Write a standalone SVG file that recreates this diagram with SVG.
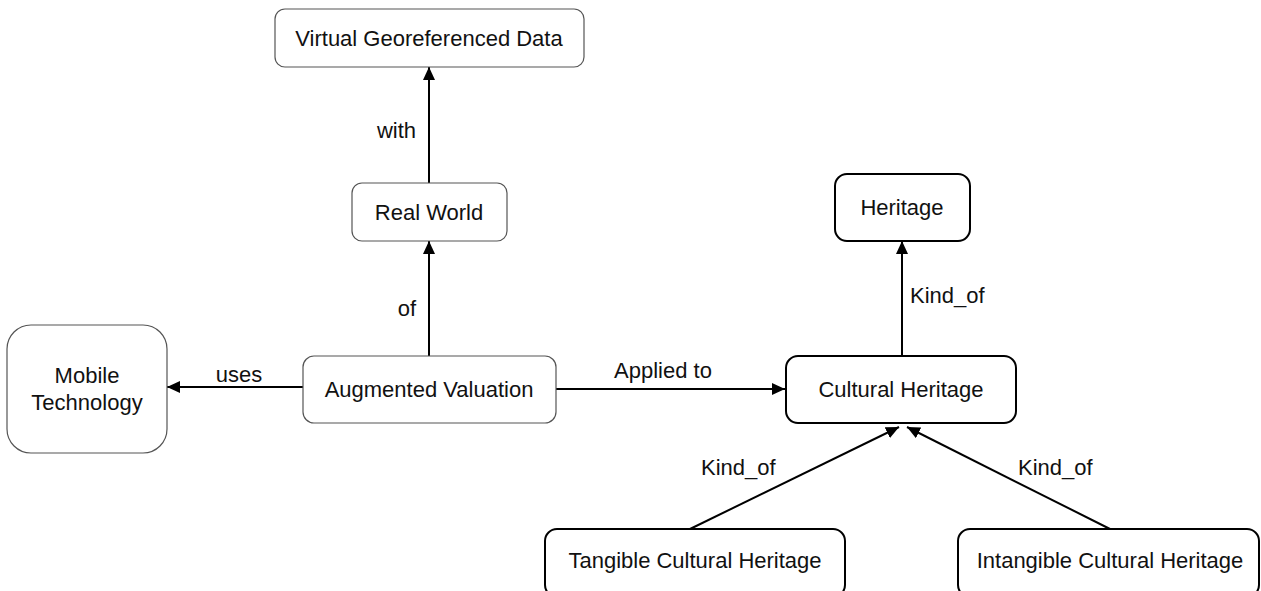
<svg xmlns="http://www.w3.org/2000/svg" width="1261" height="591" viewBox="0 0 1261 591">
<style>
text{font-family:"Liberation Sans",Arial,sans-serif;font-size:22px;fill:#111}
.c{text-anchor:middle;dominant-baseline:central}
.thin{fill:#fff;stroke:#555;stroke-width:1.2}
.bold{fill:#fff;stroke:#000;stroke-width:2}
.edge{stroke:#000;stroke-width:2;fill:none;marker-end:url(#ah)}
</style>
<defs>
<marker id="ah" markerUnits="userSpaceOnUse" markerWidth="14" markerHeight="12" refX="13" refY="6" orient="auto">
<path d="M0,0 L13,6 L0,12 Z" fill="#000"/>
</marker>
</defs>
<rect width="1261" height="591" fill="#fff"/>
<g id="connectors">
<line class="edge" x1="429" y1="183" x2="429" y2="67"/>
<line class="edge" x1="429" y1="356" x2="429" y2="241"/>
<line class="edge" x1="303" y1="387" x2="167" y2="387"/>
<line class="edge" x1="556" y1="389" x2="785" y2="389"/>
<line class="edge" x1="902" y1="356" x2="902" y2="241"/>
<line class="edge" x1="690" y1="529" x2="899" y2="427"/>
<line class="edge" x1="1110" y1="529" x2="907" y2="427"/>
<text x="416" y="138" text-anchor="end">with</text>
<text x="416" y="316" text-anchor="end">of</text>
<text x="239" y="382" text-anchor="middle">uses</text>
<text x="663" y="378" text-anchor="middle">Applied to</text>
<text x="910" y="303">Kind_of</text>
<text x="701" y="475">Kind_of</text>
<text x="1018" y="475">Kind_of</text>
</g>
<g id="vgd">
<rect class="thin" x="275" y="9" width="309" height="58" rx="10"/>
<text class="c" x="429" y="38">Virtual Georeferenced Data</text>
</g>
<g id="realworld">
<rect class="thin" x="352" y="183" width="155" height="58" rx="10"/>
<text class="c" x="429" y="212">Real World</text>
</g>
<g id="augmented">
<rect class="thin" x="303" y="356" width="253" height="67" rx="11"/>
<text class="c" x="429" y="389">Augmented Valuation</text>
</g>
<g id="mobile">
<rect class="thin" x="7" y="325" width="160" height="128" rx="24"/>
<text x="87" y="383" text-anchor="middle">Mobile</text>
<text x="87" y="410" text-anchor="middle">Technology</text>
</g>
<g id="heritage">
<rect class="bold" x="835" y="174" width="135" height="67" rx="12"/>
<text class="c" x="902" y="207">Heritage</text>
</g>
<g id="cultural">
<rect class="bold" x="786" y="356" width="230" height="67" rx="12"/>
<text class="c" x="901" y="389">Cultural Heritage</text>
</g>
<g id="tangible">
<rect class="bold" x="545" y="529" width="300" height="68" rx="12"/>
<text class="c" x="695" y="560">Tangible Cultural Heritage</text>
</g>
<g id="intangible">
<rect class="bold" x="958" y="529" width="301" height="68" rx="12"/>
<text class="c" x="1110" y="560">Intangible Cultural Heritage</text>
</g>
</svg>
